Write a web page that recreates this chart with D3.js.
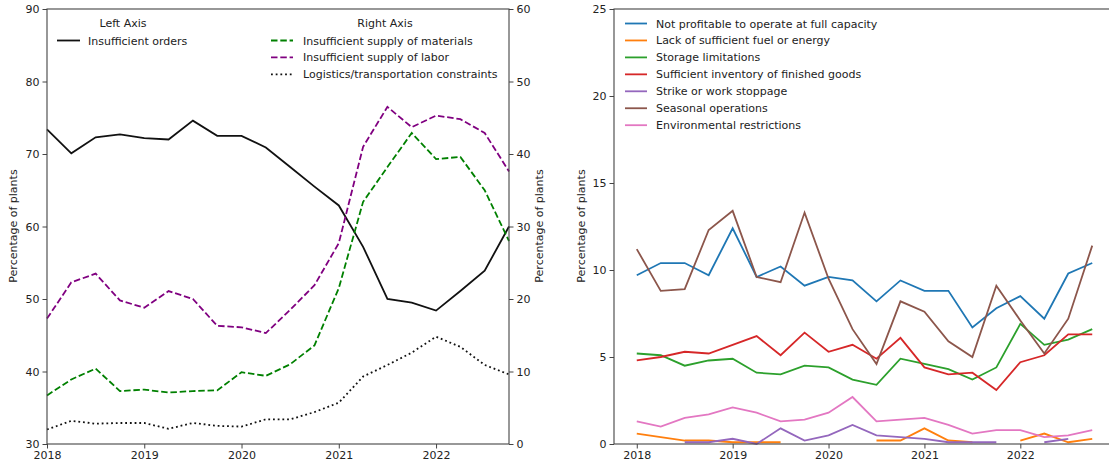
<!DOCTYPE html>
<html><head>
<meta charset="utf-8">
<script src="https://d3js.org/d3.v7.min.js"></script>
<style>
  body { margin: 0; background: #fff; }
  text { font-family: "DejaVu Sans", sans-serif; fill: #222; }
  .tick text { font-size: 11px; }
  .leg { font-size: 11px; }
</style>
</head><body>
<script>
// quarters 2018Q1 .. 2022Q4 as decimal years
var quarters = d3.range(20).map(function(i) { return 2018 + i / 4; });

// left chart, left axis
var insufficientOrders = [73.4, 70.1, 72.3, 72.7, 72.2, 72.0, 74.6, 72.5, 72.5, 70.9,
                          68.2, 65.5, 62.9, 57.2, 50.0, 49.5, 48.4, 51.1, 53.9, 60.0];
// left chart, right axis
var supplyMaterials = [6.7, 8.9, 10.4, 7.3, 7.5, 7.1, 7.3, 7.4, 9.9, 9.4,
                       11.0, 13.6, 21.5, 33.4, 38.2, 42.9, 39.3, 39.6, 35.0, 28.0];
var supplyLabor = [17.3, 22.3, 23.5, 19.8, 18.8, 21.1, 20.0, 16.3, 16.1, 15.3,
                   18.5, 21.9, 27.7, 41.0, 46.5, 43.7, 45.3, 44.8, 42.9, 37.6];
var logistics = [2.0, 3.2, 2.8, 2.9, 2.9, 2.1, 2.9, 2.5, 2.4, 3.4,
                 3.4, 4.4, 5.7, 9.3, 10.9, 12.6, 14.8, 13.4, 10.9, 9.6];

// right chart
var notProfitable = [9.7, 10.4, 10.4, 9.7, 12.4, 9.6, 10.2, 9.1, 9.6, 9.4,
                     8.2, 9.4, 8.8, 8.8, 6.7, 7.8, 8.5, 7.2, 9.8, 10.4];
var lackFuel = [0.6, 0.4, 0.2, 0.2, 0.1, 0.1, 0.1, null, null, null,
                0.2, 0.2, 0.9, 0.2, 0.1, null, 0.2, 0.6, 0.1, 0.3];
var storage = [5.2, 5.1, 4.5, 4.8, 4.9, 4.1, 4.0, 4.5, 4.4, 3.7,
               3.4, 4.9, 4.6, 4.3, 3.7, 4.4, 6.9, 5.7, 6.0, 6.6];
var sufficientInventory = [4.8, 5.0, 5.3, 5.2, 5.7, 6.2, 5.1, 6.4, 5.3, 5.7,
                           4.9, 6.1, 4.4, 4.0, 4.1, 3.1, 4.7, 5.1, 6.3, 6.3];
var strike = [null, null, 0.1, 0.1, 0.3, 0.0, 0.9, 0.2, 0.5, 1.1,
              0.5, 0.4, 0.3, 0.1, 0.1, 0.1, null, 0.1, 0.3, null];
var seasonal = [11.2, 8.8, 8.9, 12.3, 13.4, 9.6, 9.3, 13.3, 9.5, 6.6,
                4.6, 8.2, 7.6, 5.9, 5.0, 9.1, 7.1, 5.2, 7.2, 11.4];
var environmental = [1.3, 1.0, 1.5, 1.7, 2.1, 1.8, 1.3, 1.4, 1.8, 2.7,
                     1.3, 1.4, 1.5, 1.1, 0.6, 0.8, 0.8, 0.4, 0.5, 0.8];

var yearTicks = [2018, 2019, 2020, 2021, 2022];
var leftTicks = [30, 40, 50, 60, 70, 80, 90];
var rightTicks = [0, 10, 20, 30, 40, 50, 60];
var panelTicks = [0, 5, 10, 15, 20, 25];

var rightNames = ["Not profitable to operate at full capacity", "Lack of sufficient fuel or energy",
  "Storage limitations", "Sufficient inventory of finished goods", "Strike or work stoppage",
  "Seasonal operations", "Environmental restrictions"];
var rightSeries = [notProfitable, lackFuel, storage, sufficientInventory, strike, seasonal, environmental];
var rightColors = ["#1f77b4", "#ff7f0e", "#2ca02c", "#d62728", "#9467bd", "#8c564b", "#e377c2"];

var svg = d3.select("body").append("svg").attr("width", 1109).attr("height", 465);

var plotTop = 9, plotBottom = 444;
var spine = "#444";

function styleAxis(g) {
  g.select(".domain").remove();
  g.selectAll(".tick line").attr("stroke", spine).attr("stroke-width", 1);
}

function lineOf(x, y) {
  return d3.line()
    .defined(function(d) { return d[1] != null; })
    .x(function(d) { return x(d[0]); })
    .y(function(d) { return y(d[1]); });
}
function pairs(vals) { return quarters.map(function(q, i) { return [q, vals[i]]; }); }

// ---------- left chart ----------
var xL = d3.scaleLinear().domain([2018, 2022.75]).range([47, 509]);
var yL = d3.scaleLinear().domain([30, 90]).range([plotBottom, plotTop]);
var yR = d3.scaleLinear().domain([0, 60]).range([plotBottom, plotTop]);

var gLeft = svg.append("g");
gLeft.append("g").attr("transform", "translate(0," + plotBottom + ")")
  .call(d3.axisBottom(xL).tickValues(yearTicks).tickFormat(d3.format("d")).tickSize(4.5).tickPadding(3))
  .call(styleAxis);
gLeft.append("g").attr("transform", "translate(47,0)")
  .call(d3.axisLeft(yL).tickValues(leftTicks).tickSize(4.5).tickPadding(3))
  .call(styleAxis);
gLeft.append("g").attr("transform", "translate(509,0)")
  .call(d3.axisRight(yR).tickValues(rightTicks).tickSize(4.5).tickPadding(3))
  .call(styleAxis);

gLeft.append("path").datum(pairs(insufficientOrders)).attr("d", lineOf(xL, yL))
  .attr("fill", "none").attr("stroke", "#111").attr("stroke-width", 1.8);
gLeft.append("path").datum(pairs(supplyMaterials)).attr("d", lineOf(xL, yR))
  .attr("fill", "none").attr("stroke", "#008000").attr("stroke-width", 1.8).attr("stroke-dasharray", "6.5,2.8");
gLeft.append("path").datum(pairs(supplyLabor)).attr("d", lineOf(xL, yR))
  .attr("fill", "none").attr("stroke", "#800080").attr("stroke-width", 1.8).attr("stroke-dasharray", "6.5,2.8");
gLeft.append("path").datum(pairs(logistics)).attr("d", lineOf(xL, yR))
  .attr("fill", "none").attr("stroke", "#111").attr("stroke-width", 1.8).attr("stroke-dasharray", "1.8,2.9");

gLeft.append("rect").attr("x", 47).attr("y", plotTop).attr("width", 462).attr("height", plotBottom - plotTop)
  .attr("fill", "none").attr("stroke", spine).attr("stroke-width", 1.1);

gLeft.append("text").attr("transform", "translate(17,226) rotate(-90)")
  .attr("text-anchor", "middle").attr("class", "leg").text("Percentage of plants");
gLeft.append("text").attr("transform", "translate(543,226) rotate(-90)")
  .attr("text-anchor", "middle").attr("class", "leg").text("Percentage of plants");

// left chart legends
gLeft.append("text").attr("class", "leg").attr("x", 123).attr("y", 27).attr("text-anchor", "middle").text("Left Axis");
gLeft.append("line").attr("x1", 57).attr("x2", 80).attr("y1", 40.5).attr("y2", 40.5)
  .attr("stroke", "#111").attr("stroke-width", 1.8);
gLeft.append("text").attr("class", "leg").attr("x", 88).attr("y", 44.5).text("Insufficient orders");

gLeft.append("text").attr("class", "leg").attr("x", 385).attr("y", 27).attr("text-anchor", "middle").text("Right Axis");
var rLeg = [["Insufficient supply of materials", "#008000", "6.5,2.8"],
            ["Insufficient supply of labor", "#800080", "6.5,2.8"],
            ["Logistics/transportation constraints", "#111", "1.8,2.9"]];
rLeg.forEach(function(e, i) {
  var yy = 40.5 + i * 16.9;
  gLeft.append("line").attr("x1", 271).attr("x2", 293).attr("y1", yy).attr("y2", yy)
    .attr("stroke", e[1]).attr("stroke-width", 1.8).attr("stroke-dasharray", e[2]);
  gLeft.append("text").attr("class", "leg").attr("x", 303).attr("y", yy + 4).text(e[0]);
});

// ---------- right chart ----------
var x2 = d3.scaleLinear().domain([2018 - 0.2375, 2022.75 + 0.2375]).range([614, 1115]);
var y2 = d3.scaleLinear().domain([0, 25]).range([plotBottom, plotTop]);

var gRight = svg.append("g");
gRight.append("g").attr("transform", "translate(0," + plotBottom + ")")
  .call(d3.axisBottom(x2).tickValues(yearTicks).tickFormat(d3.format("d")).tickSize(4.5).tickPadding(3))
  .call(styleAxis);
gRight.append("g").attr("transform", "translate(614,0)")
  .call(d3.axisLeft(y2).tickValues(panelTicks).tickSize(4.5).tickPadding(3))
  .call(styleAxis);

rightSeries.forEach(function(vals, i) {
  gRight.append("path").datum(pairs(vals)).attr("d", lineOf(x2, y2))
    .attr("fill", "none").attr("stroke", rightColors[i]).attr("stroke-width", 1.8);
});

gRight.append("rect").attr("x", 614).attr("y", plotTop).attr("width", 501).attr("height", plotBottom - plotTop)
  .attr("fill", "none").attr("stroke", spine).attr("stroke-width", 1.1);

gRight.append("text").attr("transform", "translate(585,226) rotate(-90)")
  .attr("text-anchor", "middle").attr("class", "leg").text("Percentage of plants");

rightNames.forEach(function(name, i) {
  var yy = 23.5 + i * 16.95;
  gRight.append("line").attr("x1", 625).attr("x2", 647).attr("y1", yy).attr("y2", yy)
    .attr("stroke", rightColors[i]).attr("stroke-width", 1.8);
  gRight.append("text").attr("class", "leg").attr("x", 656).attr("y", yy + 4).text(name);
});
</script>
</body></html>
